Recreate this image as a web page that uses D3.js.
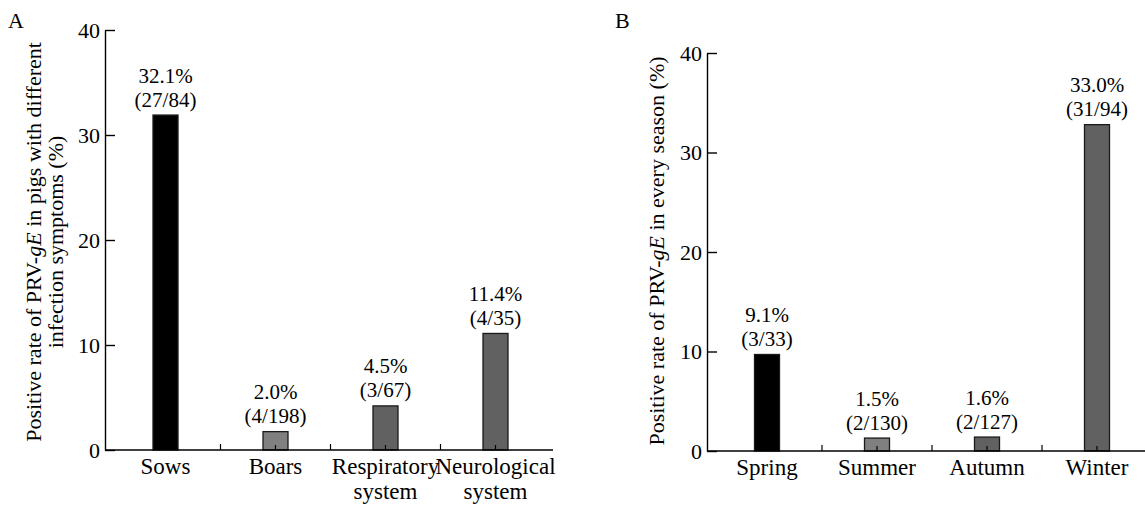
<!DOCTYPE html>
<meta charset="utf-8">
<style>
  body { margin: 0; background: #fff; }
  svg text { font-family: 'Liberation Serif', 'Times New Roman', serif; fill: #000; }
</style>
<body>
<div id="chart"></div>
<script src="https://d3js.org/d3.v7.min.js"></script>
<script>

// data
var symptomNames = [["Sows"], ["Boars"], ["Respiratory", "system"], ["Neurological", "system"]];
var symptomValues = [31.9, 1.75, 4.2, 11.1];
var symptomPct = ["32.1%", "2.0%", "4.5%", "11.4%"];
var symptomCounts = ["(27/84)", "(4/198)", "(3/67)", "(4/35)"];

var seasonNames = [["Spring"], ["Summer"], ["Autumn"], ["Winter"]];
var seasonValues = [9.7, 1.3, 1.4, 32.8];
var seasonPct = ["9.1%", "1.5%", "1.6%", "33.0%"];
var seasonCounts = ["(3/33)", "(2/130)", "(2/127)", "(31/94)"];

var yTicks = [0, 10, 20, 30, 40];
var barColors = ["#000000", "#808080", "#616161", "#616161"];

var svg = d3.select("#chart")
  .append("svg")
    .attr("width", 1145)
    .attr("height", 507);

function drawPanel(opt) {
  var g = svg.append("g");
  var keys = opt.names.map(function(d, i) { return i; });

  var x = d3.scaleBand()
    .domain(keys)
    .range([opt.x0, opt.x1])
    .padding(0);

  var y = d3.scaleLinear()
    .domain([0, 40])
    .range([opt.y0, opt.y1]);

  var barW = 25;
  var cx = function(i) { return x(i) + x.bandwidth() / 2; };

  // bars
  g.selectAll(".bar")
    .data(opt.values)
    .enter()
    .append("rect")
      .attr("x", function(d, i) { return cx(i) - barW / 2; })
      .attr("y", function(d) { return y(d); })
      .attr("width", barW)
      .attr("height", function(d) { return y(0) - y(d); })
      .attr("fill", function(d, i) { return barColors[i]; })
      .attr("stroke", "#1a1a1a")
      .attr("stroke-width", 1.3);

  // value labels: percentage over count
  var lab = g.selectAll(".lab")
    .data(opt.values)
    .enter()
    .append("text")
      .attr("text-anchor", "middle")
      .style("font-size", "21px");
  lab.append("tspan")
    .attr("x", function(d, i) { return cx(i); })
    .attr("y", function(d) { return y(d) - 32.5; })
    .text(function(d, i) { return opt.pct[i]; });
  lab.append("tspan")
    .attr("x", function(d, i) { return cx(i); })
    .attr("y", function(d) { return y(d) - 8.5; })
    .text(function(d, i) { return opt.counts[i]; });

  // y axis
  var yAxis = g.append("g")
    .attr("transform", "translate(" + opt.ax + ",0)")
    .call(d3.axisLeft(y).tickValues(yTicks).tickSizeInner(-10).tickSizeOuter(0).tickPadding(5));
  yAxis.select(".domain").attr("stroke", "#000").attr("stroke-width", 1.4);
  yAxis.selectAll(".tick line").attr("stroke-width", 1.4);
  yAxis.selectAll("text")
    .style("font-size", "22px")
    .style("font-family", "'Liberation Serif', serif");

  // x axis: centre ticks
  var xAxis = g.append("g")
    .attr("transform", "translate(0," + y(0) + ")")
    .call(d3.axisBottom(x).tickFormat("").tickSizeInner(-5).tickSizeOuter(0));
  xAxis.select(".domain").remove();
  xAxis.selectAll(".tick line").attr("stroke-width", 1.2);

  // boundary ticks between categories
  g.selectAll(".sep")
    .data(keys.slice(1))
    .enter()
    .append("line")
      .attr("x1", function(d) { return x(d); })
      .attr("x2", function(d) { return x(d); })
      .attr("y1", y(0))
      .attr("y2", y(0) - 6)
      .attr("stroke", "#000")
      .attr("stroke-width", 1.2);

  g.append("line")
    .attr("x1", opt.ax)
    .attr("x2", opt.axEnd)
    .attr("y1", y(0))
    .attr("y2", y(0))
    .attr("stroke", "#000")
    .attr("stroke-width", 1.4);

  // category labels
  opt.names.forEach(function(lines, i) {
    var t = g.append("text")
      .attr("text-anchor", "middle")
      .style("font-size", "23px");
    lines.forEach(function(s, j) {
      t.append("tspan")
        .attr("x", cx(i))
        .attr("y", opt.y0 + 24 + j * 25)
        .text(s);
    });
  });

  // y title
  var tt = g.append("text")
    .attr("transform", "rotate(-90)")
    .attr("text-anchor", "middle")
    .style("font-size", "22px");
  opt.title.forEach(function(line, j) {
    var ts = tt.append("tspan")
      .attr("x", -opt.titleY)
      .attr("y", opt.titleX + j * 22);
    line.forEach(function(part) {
      ts.append("tspan")
        .style("font-style", part[1] ? "italic" : "normal")
        .text(part[0]);
    });
  });

  // panel letter
  g.append("text")
    .attr("x", opt.letterX)
    .attr("y", 28)
    .style("font-size", "22px")
    .text(opt.letter);
}

drawPanel({
  names: symptomNames, values: symptomValues, pct: symptomPct, counts: symptomCounts,
  x0: 110.5, x1: 550.5, y0: 450, y1: 30, ax: 105, axEnd: 553,
  title: [[["Positive rate of PRV-", false], ["gE", true], [" in pigs with different", false]],
          [["infection symptoms (%)", false]]],
  titleX: 41, titleY: 242, letter: "A", letterX: 8
});

drawPanel({
  names: seasonNames, values: seasonValues, pct: seasonPct, counts: seasonCounts,
  x0: 712, x1: 1152, y0: 451, y1: 53, ax: 707, axEnd: 1150,
  title: [[["Positive rate of PRV-", false], ["gE", true], [" in every season (%)", false]]],
  titleX: 664, titleY: 251, letter: "B", letterX: 615
});

</script>
</body>
